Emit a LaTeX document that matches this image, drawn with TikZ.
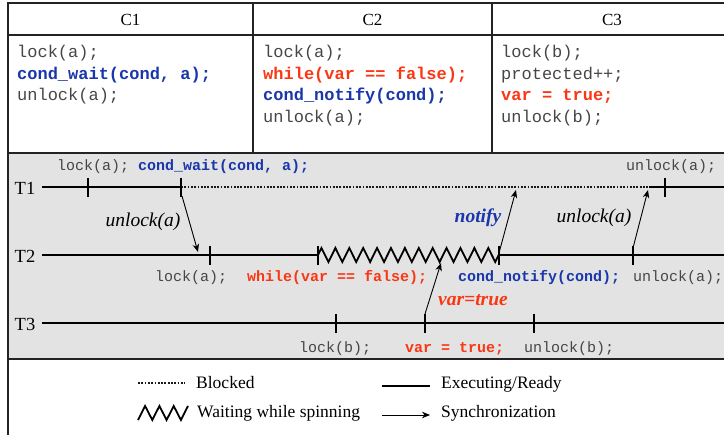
\documentclass[tikz,border=0pt]{standalone}
\usepackage{fontspec}
\setmainfont{Liberation Serif}
\setmonofont{Liberation Mono}
\usetikzlibrary{arrows.meta,decorations.pathmorphing}

\definecolor{codeblue}{RGB}{25,55,170}
\definecolor{codered}{RGB}{250,55,20}
\definecolor{codegray}{RGB}{70,70,70}
\definecolor{panelgray}{RGB}{227,227,227}
\definecolor{framegray}{RGB}{35,35,35}

\tikzset{
  frame/.style={line width=1.4pt, framegray},
  head/.style={font=\fontsize{17}{20}\selectfont, inner sep=0pt},
  code/.style={font=\fontsize{17}{21.6}\selectfont\ttfamily, text=codegray, anchor=base west, inner sep=0pt},
  tlcode/.style={font=\fontsize{15}{18}\selectfont\ttfamily, text=codegray, anchor=base west, inner sep=0pt},
  thread/.style={font=\fontsize{18.5}{20}\selectfont, inner sep=0pt},
  synclabel/.style={font=\fontsize{19.5}{22}\selectfont\itshape, inner sep=0pt},
  boldsync/.style={synclabel, font=\fontsize{19.5}{22}\selectfont\bfseries\itshape},
  legendtext/.style={font=\fontsize{17.5}{20}\selectfont, anchor=base west, inner sep=0pt},
  timeline/.style={line width=2.2pt},
  tickmark/.style={line width=2pt},
  blocked/.style={line width=2pt, black!90, dash pattern=on 1.8pt off 1.5pt},
  spinning/.style={line width=1.8pt, decorate, decoration={zigzag, segment length=13.9pt, amplitude=7pt}},
  sync/.style={line width=0.9pt, -{Stealth[length=8pt,width=6.5pt,inset=2.5pt]}},
}
\newcommand{\bluecode}[1]{\textbf{\color{codeblue}#1}}
\newcommand{\redcode}[1]{\textbf{\color{codered}#1}}

\begin{document}
\begin{tikzpicture}[x=1pt,y=-1pt]
\useasboundingbox (0,0) rectangle (724,435);

% Shading the timeline panel
\fill[panelgray] (8,153) rectangle (732,359);

% Drawing the frame of the table
\draw[frame] (8,440) -- (8,3) -- (732,3);
\draw[frame] (8,35) -- (732,35);
\draw[frame] (8,153) -- (732,153);
\draw[frame] (8,359) -- (732,359);
\draw[frame] (253,3) -- (253,153);
\draw[frame] (492,3) -- (492,153);

% Column heads
\node[head] (hone) at (130.5,20) {C1};
\node[head] (htwo) at (372.5,20) {C2};
\node[head] (hthree) at (612,20) {C3};

% Code of C1
\foreach \txt [count=\i] in {{lock(a);}, {\bluecode{cond\_wait(cond, a);}}, {unlock(a);}}
  \node[code] (cone\i) at (17,36+21.6*\i) {\txt};

% Code of C2
\foreach \txt [count=\i] in {{lock(a);}, {\redcode{while(var == false);}}, {\bluecode{cond\_notify(cond);}}, {unlock(a);}}
  \node[code] (ctwo\i) at (263,36+21.6*\i) {\txt};

% Code of C3
\foreach \txt [count=\i] in {{lock(b);}, {protected++;}, {\redcode{var = true;}}, {unlock(b);}}
  \node[code] (cthree\i) at (501,36+21.6*\i) {\txt};

% Thread names
\node[thread] (tone) at (25,188) {T1};
\node[thread] (ttwo) at (25,256) {T2};
\node[thread] (tthree) at (25,324) {T3};

% Drawing line T1
\draw[timeline] (42,187) -- (181,187);
\draw[blocked] (181,187) -- (649,187);
\draw[timeline] (649,187) -- (732,187);
\foreach \x in {88,181,665}
  \draw[tickmark] (\x,178) -- (\x,197);

% Drawing line T2
\draw[timeline] (42,255) -- (318,255);
\draw[spinning] (318,255) -- (499,255);
\draw[timeline] (499,255) -- (732,255);
\foreach \x in {210,318,499,633}
  \draw[tickmark] (\x,246) -- (\x,265);

% Drawing line T3
\draw[timeline] (42,323) -- (732,323);
\foreach \x in {336,425,534}
  \draw[tickmark] (\x,314) -- (\x,333);

% Marking the calls of T1
\node[tlcode] (lockone) at (57,171) {lock(a); \bluecode{cond\_wait(cond, a);}};
\node[tlcode] (unlockone) at (626,171) {unlock(a);};

% Marking the calls of T2
\node[tlcode] (locktwo) at (155,282) {lock(a);};
\node[tlcode] (spintwo) at (247,282) {\redcode{while(var == false);}};
\node[tlcode] (notifytwo) at (458,282) {\bluecode{cond\_notify(cond);}};
\node[tlcode] (unlocktwo) at (633,282) {unlock(a);};

% Marking the calls of T3
\node[tlcode] (lockthree) at (299,353) {lock(b);};
\node[tlcode] (setthree) at (405,353) {\redcode{var = true;}};
\node[tlcode] (unlockthree) at (524,353) {unlock(b);};

% Synchronization arrows
\coordinate (waitA) at (182,196);
\coordinate (lockA) at (198,252);
\coordinate (notifyA) at (499,253);
\coordinate (wakeA) at (516,190);
\coordinate (unlockA) at (633,248);
\coordinate (relockA) at (648,190);
\coordinate (setVar) at (425,314);
\coordinate (seeVar) at (441,263);
\draw[sync] (waitA) -- (lockA);
\draw[sync] (notifyA) -- (wakeA);
\draw[sync] (unlockA) -- (relockA);
\draw[sync] (setVar) -- (seeVar);
\node[synclabel] (unlockfirst) at (143,222) {unlock(a)};
\node[boldsync, text=codeblue] (notifylabel) at (478,218) {notify};
\node[synclabel] (unlocksecond) at (594,218) {unlock(a)};
\node[boldsync, text=codered] (varlabel) at (473,300) {var=true};

% Legend
\draw[blocked] (138,383) -- (185,383);
\node[legendtext] (lblocked) at (196,389) {Blocked};
\draw[timeline] (382,386) -- (430,386);
\node[legendtext] (lready) at (441,389) {Executing/Ready};
\draw[line width=1.8pt] (138,420) -- (145.1,406) -- (152.3,420) -- (159.4,406)
  -- (166.6,420) -- (173.7,406) -- (180.9,420) -- (188,406);
\node[legendtext] (lspin) at (197,418) {Waiting while spinning};
\draw[sync] (382,415) -- (430,415);
\node[legendtext] (lsync) at (441,418) {Synchronization};
\end{tikzpicture}
\end{document}
